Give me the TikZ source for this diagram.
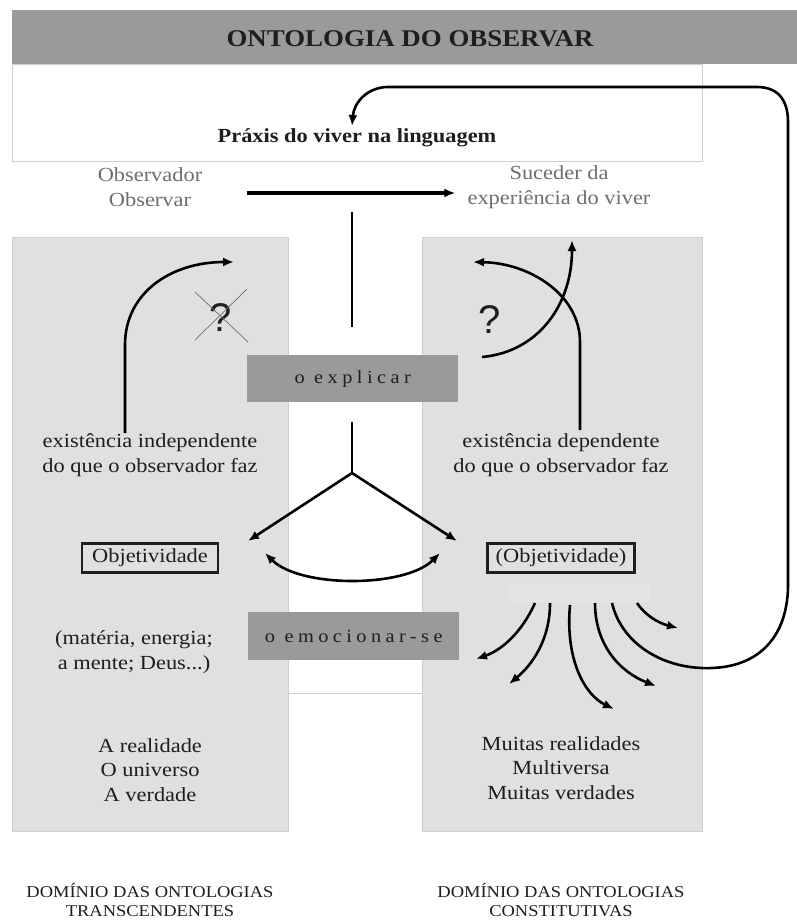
\documentclass[tikz,border=0pt]{standalone}
\usepackage{fontspec}
\setmainfont{Liberation Serif}[FakeStretch=1.12]
\newfontfamily\qfont{Liberation Sans}
\newfontfamily\spacedfont{Liberation Serif}[LetterSpace=24,FakeStretch=1.1]
\usetikzlibrary{arrows.meta,calc}
\definecolor{bar}{HTML}{9A9A9A}
\definecolor{panel}{HTML}{E0E0E0}
\definecolor{panelhi}{HTML}{E4E4E4}
\definecolor{edge}{HTML}{CFCFCF}
\definecolor{ink}{HTML}{1E1E1E}
\definecolor{soft}{HTML}{6E6E6E}
\begin{document}
\begin{tikzpicture}[x=1pt,y=-1pt,
  body/.style={font=\fontsize{20}{24.5}\selectfont, text=ink, align=center, inner sep=0pt},
  faint/.style={body, text=soft},
  caps/.style={font=\fontsize{16.5}{19}\selectfont, text=ink, align=center, inner sep=0pt},
  greybox/.style={fill=bar, inner sep=0pt, minimum width=211pt, minimum height=47pt,
    font=\fontsize{18.5}{20}\spacedfont, text=ink},
  framed/.style={body, draw=ink, line width=2.2pt, minimum height=29pt},
  plain/.style={draw=black, line width=2.6pt},
  arr/.style={draw=black, line width=2.6pt, -{Latex[length=11pt,width=9pt]}},
  twoway/.style={draw=black, line width=2.6pt, {Latex[length=11pt,width=9pt]}-{Latex[length=11pt,width=9pt]}},
  cross/.style={draw=soft, line width=0.7pt},
  qmark/.style={font=\fontsize{40}{44}\qfont, text=ink, inner sep=0pt}]

\useasboundingbox (0,0) rectangle (797,924);
\fill[white] (0,0) rectangle (797,924);

% title bar and the white box under it
\fill[bar] (12,10) rectangle (797,64);
\node[font=\fontsize{24}{28}\selectfont\bfseries, text=ink, inner sep=0pt] (title) at (410,39) {ONTOLOGIA DO OBSERVAR};
\filldraw[fill=white, draw=edge, line width=0.8pt] (12,64) rectangle (702,161);
\node[body, font=\fontsize{20}{24}\selectfont\bfseries] (praxis) at (357,138) {Práxis do viver na linguagem};

% observer line
\node[faint] (obs) at (150,187) {Observador\\Observar};
\node[faint] (suc) at (559,187) {Suceder da\\experiência do viver};
\draw[arr, line width=3.2pt] ($(obs.east)+(45,6)$) -- ($(suc.west)+(-12,6)$);

% white middle column and the two domain panels
\draw[edge, line width=0.8pt] (288,693) -- (422,693);
\filldraw[fill=panel, draw=edge, line width=0.8pt] (12,237) rectangle (288,831);
\filldraw[fill=panel, draw=edge, line width=0.8pt] (422,237) rectangle (702,831);
\fill[panelhi] (508,585) rectangle (650,602);

% central stems
\coordinate (stemtop) at (352,212);
\coordinate (stembot) at (352,327);
\draw[plain] (stemtop) -- (stembot);

\node[greybox, anchor=north west] (expl) at (247,355) {o explicar};
\node[greybox, anchor=north west, minimum height=48pt] (emoc) at (248,612) {o emocionar-se};

% left domain
\node[body] (existL) at (150,455) {existência independente\\do que o observador faz};
\node[framed, minimum width=136pt] (objL) at (150,558) {Objetividade};
\node[body] (matL) at (134,652) {(matéria, energia;\\a mente; Deus...)};
\node[body] (realL) at (150,770) {A realidade\\O universo\\A verdade};
\node[caps] (domL) at (150,900) {DOMÍNIO DAS ONTOLOGIAS\\TRANSCENDENTES};

\coordinate (upL) at (125,433);
\coordinate (tipL) at (234,262);
\draw[arr] (upL) -- (125,345) .. controls (125,292) and (172,262) .. (tipL);
\node[qmark] (qL) at (221,318) {?};
\draw[cross] (195,292) -- (248,342);
\draw[cross] (247,289) -- (195,340);

% right domain
\node[body] (existR) at (561,455) {existência dependente\\do que o observador faz};
\node[framed, minimum width=147pt] (objR) at (561,558) {(Objetividade)};
\node[body] (realR) at (561,768) {Muitas realidades\\Multiversa\\Muitas verdades};
\node[caps] (domR) at (561,900) {DOMÍNIO DAS ONTOLOGIAS\\CONSTITUTIVAS};

\coordinate (upR) at (580,430);
\draw[arr] (upR) -- (580,342) .. controls (580,295) and (530,263) .. (473,262);
\draw[arr] (482,357) .. controls (538,352) and (572,305) .. (572,240);
\node[qmark] (qR) at (490,320) {?};

% the fork under "o explicar"
\coordinate (forktop) at (352,422);
\coordinate (fork) at (352,473);
\draw[plain] (forktop) -- (fork);
\draw[arr] (fork) -- (248,541);
\draw[arr] (fork) -- (457,541);
\draw[twoway] (265,553) .. controls (300,588) and (405,588) .. (440,553);

% fan of arrows from (Objetividade)
\draw[arr] (535,603) .. controls (522,632) and (502,650) .. (476,659);
\draw[arr] (550,603) .. controls (550,640) and (532,665) .. (509,684);
\draw[arr] (570,605) .. controls (565,660) and (585,695) .. (614,709);
\draw[arr] (595,603) .. controls (595,645) and (620,672) .. (656,686);
\draw[arr] (637,603) .. controls (645,615) and (658,623) .. (678,628);

% return loop back to the praxis of living in language
\coordinate (loopstart) at (612,603);
\coordinate (loopend) at (352,126);
\draw[arr] (loopstart) .. controls (622,645) and (665,670) .. (712,668)
  .. controls (765,666) and (788,630) .. (788,585) -- (788,122)
  .. controls (788,100) and (778,87) .. (757,87) -- (388,87)
  .. controls (368,87) and (354,102) .. (loopend);
\end{tikzpicture}
\end{document}
